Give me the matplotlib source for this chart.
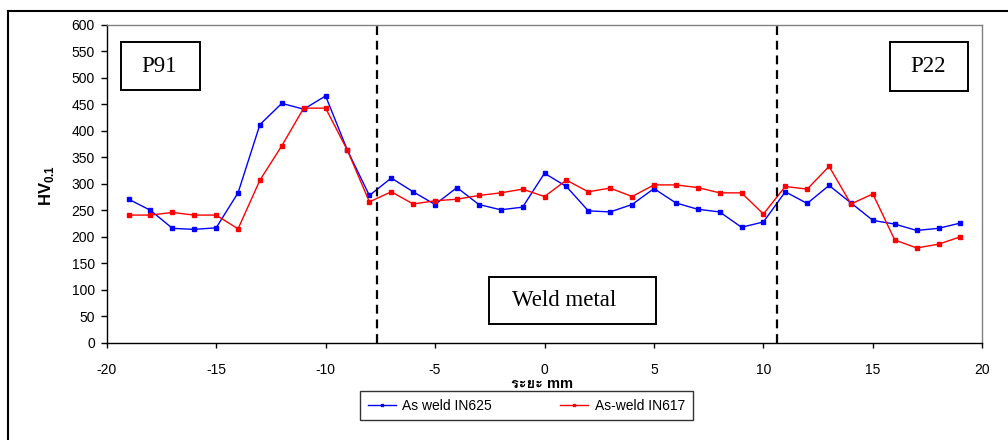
import matplotlib
matplotlib.use("Agg")
import matplotlib.pyplot as plt
from matplotlib.patches import Rectangle
from matplotlib.lines import Line2D
from matplotlib import font_manager
from matplotlib.ft2font import FT2Font

# find an installed family that has Thai glyphs
thai_family = None
for fe in font_manager.fontManager.ttflist:
    try:
        f = FT2Font(fe.fname)
        if all(f.get_char_index(ord(c)) != 0 for c in 'ระย'):
            thai_family = fe.name
            break
    except Exception:
        continue

base_families = ['Liberation Sans', 'DejaVu Sans']
thai_families = base_families + ([thai_family] if thai_family else []) + ['Noto Sans']

plt.rcParams['font.family'] = base_families
plt.rcParams['mathtext.fontset'] = 'custom'
plt.rcParams['mathtext.rm'] = 'Liberation Sans'
plt.rcParams['mathtext.bf'] = 'Liberation Sans:bold'

distance = list(range(-19, 20))
in625 = [271, 250, 216, 214, 217, 283, 412, 452, 441, 466, 363, 278, 311, 285, 261,
         293, 261, 251, 256, 320, 295, 249, 247, 261, 291, 264, 252, 247, 218, 228,
         285, 263, 297, 264, 231, 224, 212, 216, 226]
in617 = [241, 241, 246, 241, 241, 215, 307, 372, 443, 443, 363, 266, 285, 262, 268,
         271, 278, 283, 290, 276, 307, 285, 292, 276, 298, 298, 293, 283, 283, 243,
         295, 290, 333, 262, 281, 194, 179, 186, 200]
boundaries = [-7.65, 10.6]
xticks = [-20, -15, -10, -5, 0, 5, 10, 15, 20]
yticks = list(range(0, 601, 50))
series_labels = ['As weld IN625', 'As-weld IN617']

W, H = 1008, 440
fig = plt.figure(figsize=(W / 100, H / 100), dpi=100)

def fx(px):
    return px / W

def fy(py):
    return 1 - py / H

ax = fig.add_axes([fx(106.7), fy(342.7), fx(982.3) - fx(106.7), fy(25) - fy(342.7)])

ax.plot(distance, in625, color='#0000FF', lw=1.0, marker='s', ms=2.2, label=series_labels[0])
ax.plot(distance, in617, color='#FF0000', lw=1.0, marker='s', ms=2.4, label=series_labels[1])
for b in boundaries:
    ax.axvline(b, color='black', lw=1.6, ls=(0, (4, 2.6)))

ax.set_xlim(-20, 20)
ax.set_ylim(0, 600)
ax.set_xticks(xticks)
ax.set_yticks(yticks)
ax.set_xticklabels([str(t) for t in xticks])
ax.tick_params(axis='x', direction='out', length=3.5, width=1, pad=11, labelsize=10)
ax.tick_params(axis='y', direction='out', length=4.5, width=1, pad=4, labelsize=10)
for s in ['left', 'bottom']:
    ax.spines[s].set_color('black')
    ax.spines[s].set_linewidth(1.0)
for s in ['top', 'right']:
    ax.spines[s].set_color('#808080')
    ax.spines[s].set_linewidth(1.0)

fig.text(fx(46), fy(185), r'$\mathbf{HV}_{\mathbf{0.1}}$', rotation=90,
         ha='center', va='center', fontsize=12)
fig.text(fx(542), fy(384), 'ระยะ mm', ha='center', va='center', fontsize=10.5,
         fontweight='bold', family=thai_families)

def box(x0, y0, x1, y1, txt, tx=None):
    fig.add_artist(Rectangle((fx(x0), fy(y1)), fx(x1) - fx(x0), fy(y0) - fy(y1),
                             transform=fig.transFigure, fill=False, ec='black', lw=1.4))
    cx = (x0 + x1) / 2 if tx is None else tx
    fig.text(fx(cx), fy((y0 + y1) / 2), txt, ha='center', va='center',
             fontsize=16.5, family='Liberation Serif')

box(120.5, 42.3, 200, 90.3, 'P91', tx=159)
box(890, 42.3, 968, 91, 'P22', tx=928.3)
box(489, 277.3, 656, 324.3, 'Weld metal', tx=564.5)

# outer frame
fig.add_artist(Line2D([fx(7.5), fx(7.5)], [fy(440), fy(11)], transform=fig.transFigure, color='black', lw=1.5))
fig.add_artist(Line2D([fx(7.5), fx(1008)], [fy(11), fy(11)], transform=fig.transFigure, color='black', lw=1.5))

leg = fig.legend(loc='center', bbox_to_anchor=(fx(526.5), fy(405.5)), ncol=2,
                 fontsize=10, frameon=True, fancybox=False, edgecolor='black',
                 handlelength=2.0, columnspacing=4.9, handletextpad=0.5,
                 borderpad=0.55, borderaxespad=0, markerscale=0.8)
leg.get_frame().set_linewidth(1.0)

fig.savefig('out.png', dpi=100)
